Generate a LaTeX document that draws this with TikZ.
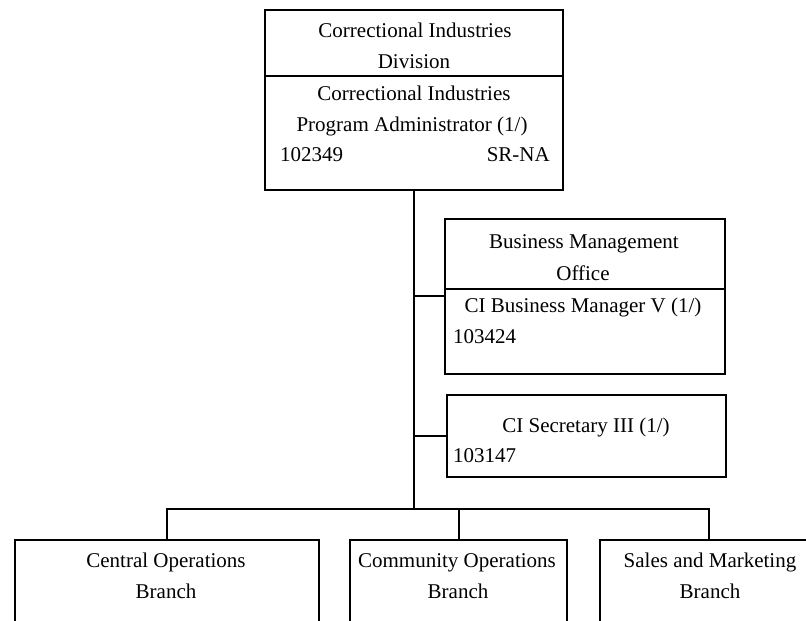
\documentclass[tikz,border=0pt]{standalone}
\usepackage{fontspec}
\setmainfont{Liberation Serif}
\begin{document}
\begin{tikzpicture}[x=1pt,y=-1pt,
  box/.style={draw,line width=2pt,rectangle,inner sep=0pt},
  txt/.style={font=\fontsize{21}{30}\selectfont,inner sep=0pt,anchor=base},
  txtl/.style={txt,anchor=base west},
  txtr/.style={txt,anchor=base east},
  conn/.style={line width=2pt}]
\useasboundingbox (0,0) rectangle (806,621);
\clip (0,0) rectangle (806,621);
\fill[white] (0,0) rectangle (806,621);
% top box
\node[box,minimum width=298pt,minimum height=66pt] (top1) at (414,43) {};
\node[box,minimum width=298pt,minimum height=114pt] (top2) at (414,133) {};
\node[txt] (t1) at (415,37) {Correctional Industries};
\node[txt] (t2) at (414,68) {Division};
\node[txt] (t3) at (414,100) {Correctional Industries};
\node[txt] (t4) at (412,131) {Program Administrator (1/)};
\node[txtl] (t5) at (280,161) {102349};
\node[txtr] (t6) at (550,161) {SR-NA};
% business box
\node[box,minimum width=280pt,minimum height=70pt] (bm1) at (585,254) {};
\node[box,minimum width=280pt,minimum height=85pt] (bm2) at (585,331.5) {};
\node[txt] (b1t) at (584,248) {Business Management};
\node[txt] (b2t) at (583,280) {Office};
\node[txt] (b3t) at (583,312) {CI Business Manager V (1/)};
\node[txtl] (b4t) at (453,343) {103424};
% secretary box
\node[box,minimum width=279pt,minimum height=82pt] (sec) at (586.5,436) {};
\node[txt] (s1t) at (586,432) {CI Secretary III (1/)};
\node[txtl] (s2t) at (453,462) {103147};
% bottom boxes
\node[box,minimum width=304pt,minimum height=100pt] (br1) at (167,590) {};
\node[box,minimum width=217pt,minimum height=100pt] (br2) at (458.5,590) {};
\node[box,minimum width=218pt,minimum height=100pt] (br3) at (709,590) {};
\node[txt] (c1t) at (166,567) {Central Operations};
\node[txt] (c2t) at (166,598) {Branch};
\node[txt] (m1t) at (457,567) {Community Operations};
\node[txt] (m2t) at (458,598) {Branch};
\node[txt] (r1t) at (710,567) {Sales and Marketing};
\node[txt] (r2t) at (710,598) {Branch};
% connectors
\coordinate (h) at (414,509);
\coordinate (cb) at (414,296);
\coordinate (cs) at (414,436);
\draw[conn] (top2.south) -- (h);
\draw[conn] (cb) -- (cb -| bm2.west);
\draw[conn] (cs) -- (sec.west);
\draw[conn] (br1.north) |- (h);
\draw[conn] (br3.north) |- (h);
\draw[conn] (br2.north) -- (br2.north |- h);
\end{tikzpicture}
\end{document}
